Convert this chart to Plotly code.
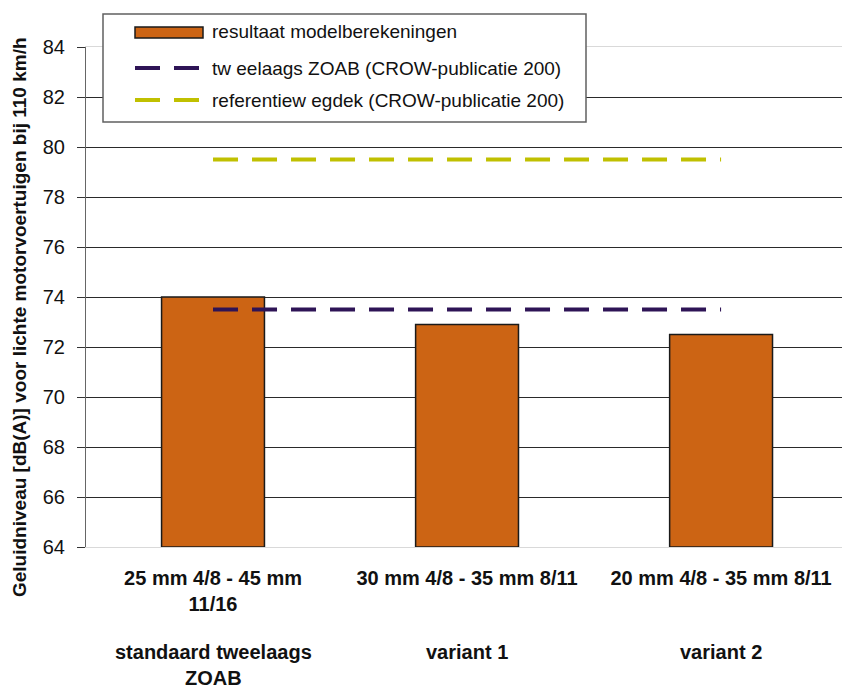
import plotly.graph_objects as go

categories = ["25 mm 4/8 - 45 mm<br>11/16", "30 mm 4/8 - 35 mm 8/11", "20 mm 4/8 - 35 mm 8/11"]
groups = ["standaard tweelaags<br>ZOAB", "variant 1", "variant 2"]
model_values = [74.0, 72.9, 72.5]
zoab_values = [73.5, 73.5, 73.5]
ref_values = [79.5, 79.5, 79.5]
y_ticks = [64, 66, 68, 70, 72, 74, 76, 78, 80, 82, 84]
y_title = "Geluidniveau [dB(A)] voor lichte motorvoertuigen bij 110 km/h"

names = ["resultaat modelberekeningen",
         "tw eelaags ZOAB (CROW-publicatie 200)",
         "referentiew egdek (CROW-publicatie 200)"]

BAR = "#CC6414"
PURPLE = "#2E1456"
YELLOW = "#C0C000"
FONT = "Liberation Sans, Arial, sans-serif"

xs = [0, 1, 2]

fig = go.Figure()
fig.add_trace(go.Bar(x=xs, y=[v - 64 for v in model_values], base=64, width=0.405,
                     marker=dict(color=BAR, line=dict(color="#1a1a1a", width=1.5)),
                     name=names[0], showlegend=False))
fig.add_trace(go.Scatter(x=xs, y=zoab_values, mode="lines",
                         line=dict(color=PURPLE, width=4, dash="25px,14px"),
                         name=names[1], showlegend=False))
fig.add_trace(go.Scatter(x=xs, y=ref_values, mode="lines",
                         line=dict(color=YELLOW, width=4, dash="25px,14px"),
                         name=names[2], showlegend=False))


def px(xp):
    return (xp - 86) / 756


def py(yp):
    return (547 - yp) / 500


# custom legend box
shapes = [dict(type="rect", xref="paper", yref="paper",
               x0=px(103), x1=px(586), y0=py(122), y1=py(14),
               line=dict(color="#606060", width=1.5), fillcolor="white", layer="above")]
shapes.append(dict(type="rect", xref="paper", yref="paper", x0=px(135), x1=px(203),
                   y0=py(38), y1=py(27), fillcolor=BAR, line=dict(color="#1a1a1a", width=1.5),
                   layer="above"))
for yy, col in [(68, PURPLE), (100, YELLOW)]:
    for a, b in [(135, 160), (174, 199)]:
        shapes.append(dict(type="line", xref="paper", yref="paper", x0=px(a), x1=px(b),
                           y0=py(yy), y1=py(yy), line=dict(color=col, width=4), layer="above"))

annotations = []
for yy, t in zip([32, 68, 100], names):
    annotations.append(dict(xref="paper", yref="paper", x=px(210), y=py(yy), text=t,
                            showarrow=False, xanchor="left", yanchor="middle",
                            font=dict(family=FONT, size=19, color="#111")))
for i, g in enumerate(groups):
    annotations.append(dict(xref="x", yref="paper", x=xs[i], y=0, yshift=-92,
                            text="<b>" + g.replace("<br>", "</b><br><b>") + "</b>",
                            showarrow=False, xanchor="center", yanchor="top",
                            font=dict(family=FONT, size=20, color="#111")))
annotations.append(dict(xref="paper", yref="paper", x=px(19), y=py(317),
                        text="<b>" + y_title + "</b>", textangle=-90,
                        showarrow=False, xanchor="center", yanchor="middle",
                        font=dict(family=FONT, size=19, color="#111")))

fig.update_layout(
    width=842, height=688,
    margin=dict(l=86, r=0, t=47, b=141),
    plot_bgcolor="white", paper_bgcolor="white",
    font=dict(family=FONT, color="#111"),
    showlegend=False,
    shapes=shapes, annotations=annotations,
    xaxis=dict(range=[-0.5, 2.476], tickvals=xs,
               ticktext=["<b>" + c.replace("<br>", "</b><br><b>") + "</b>" for c in categories],
               tickfont=dict(family=FONT, size=20, color="#111"),
               showline=True, linecolor="#d9d9d9", linewidth=1, mirror=True,
               showgrid=False, ticks="", ticklabelstandoff=13, zeroline=False),
    yaxis=dict(range=[64, 84], tickvals=y_ticks, ticktext=[str(v) for v in y_ticks],
               tickfont=dict(family=FONT, size=20, color="#111"),
               showgrid=True, gridcolor="#2a2a2a", gridwidth=1,
               showline=True, linecolor="#666", linewidth=1,
               ticks="outside", ticklen=8, tickcolor="#333", ticklabelstandoff=8,
               zeroline=False),
)

fig.write_html("out.html", config={"displayModeBar": False},
               post_script="document.body.style.margin='0';")
